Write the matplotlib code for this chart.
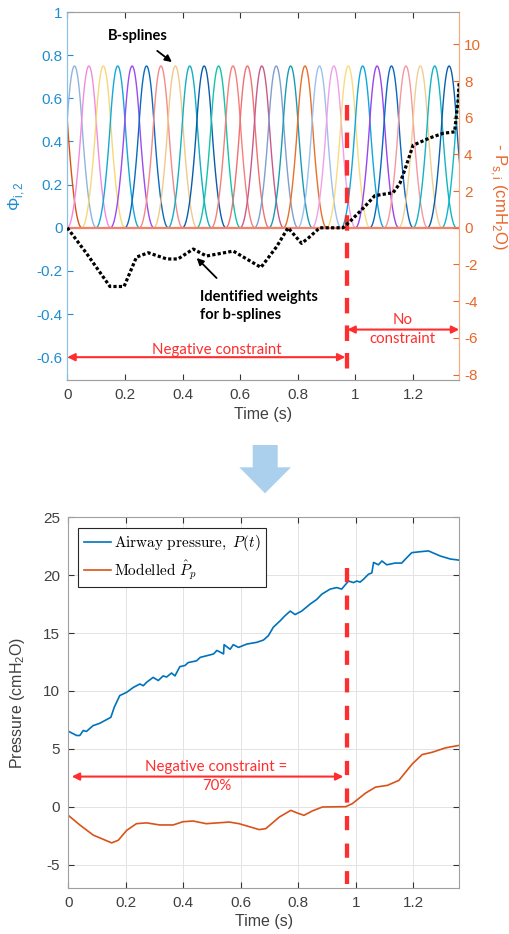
import numpy as np
import matplotlib
matplotlib.use("Agg")
import matplotlib.pyplot as plt
from matplotlib.patches import Polygon
from matplotlib.font_manager import FontProperties

plt.rcParams['font.family'] = ['Liberation Sans', 'DejaVu Sans']
plt.rcParams['axes.unicode_minus'] = False

# ================================
# Datos
# ================================

# B-splines cuadraticos (centros y paso de nudos)
knot_step = 0.05
spline_centres = [-0.025, 0.025, 0.075, 0.125, 0.175, 0.225, 0.275, 0.325, 0.375,
                  0.425, 0.475, 0.525, 0.575, 0.625, 0.675, 0.725, 0.775, 0.825,
                  0.875, 0.925, 0.975, 1.025, 1.075, 1.125, 1.175, 1.225, 1.275,
                  1.325, 1.375]
spline_colours = ['#D95319', '#8FB4E0', '#F08CE0', '#F8D77A', '#12A9D8', '#9B4BF0',
                  '#0A6BBE', '#F58A8A', '#F2C98A', '#12AFC0', '#0B5CAD', '#12C4A8',
                  '#F5807A', '#EE7272', '#C85A8A', '#7F9FD0', '#1A9BB5', '#E8702A',
                  '#9CC0EE', '#F0A0E8', '#F8DC80', '#10A8DA', '#9A45F0', '#0A68C0',
                  '#F598A0', '#F0CF94', '#12B4C0', '#0A60B0', '#12B8C8']

# pesos identificados (eje derecho, cmH2O)
w_time = [0, 0.067, 0.148, 0.197, 0.24, 0.281, 0.345, 0.384, 0.437, 0.483, 0.576,
          0.672, 0.726, 0.766, 0.813, 0.835, 0.876, 0.957, 0.98, 1.032, 1.067,
          1.113, 1.13, 1.154, 1.171, 1.2, 1.258, 1.304, 1.344, 1.356, 1.36]
weights = [0, -1.4, -3.2, -3.2, -1.6, -1.36, -1.7, -1.7, -1.16, -1.54, -1.27,
           -2.16, -1.04, 0, -0.85, -0.58, 0, 0, 0.33, 1.15, 1.75,
           1.87, 1.9, 2.42, 3.15, 4.5, 4.9, 5.15, 5.23, 6.96, 7.96]

# presion de via aerea P(t)
p_time = [0, 0.029, 0.04, 0.052, 0.063, 0.086, 0.109, 0.148, 0.160, 0.179, 0.203,
          0.226, 0.249, 0.261, 0.272, 0.295, 0.313, 0.330, 0.342, 0.359, 0.371,
          0.388, 0.406, 0.417, 0.446, 0.459, 0.505, 0.517, 0.540, 0.542, 0.563,
          0.574, 0.592, 0.621, 0.656, 0.679, 0.696, 0.713, 0.737, 0.754, 0.772,
          0.789, 0.812, 0.841, 0.864, 0.882, 0.911, 0.934, 0.951, 0.975, 0.992,
          1.004, 1.015, 1.027, 1.044, 1.056, 1.062, 1.079, 1.091, 1.108, 1.137,
          1.160, 1.177, 1.195, 1.224, 1.253, 1.294, 1.329, 1.36]
airway = [6.52, 6.15, 6.15, 6.58, 6.5, 7.0, 7.2, 7.72, 8.6, 9.6, 9.88,
          10.3, 10.6, 10.45, 10.74, 11.17, 10.9, 11.3, 11.2, 11.55, 11.3,
          12.1, 12.2, 12.45, 12.6, 12.9, 13.19, 13.5, 13.2, 14.0, 13.6,
          14.0, 13.76, 14.05, 14.2, 14.4, 14.77, 15.5, 16.06, 16.5, 16.9,
          16.6, 16.9, 17.5, 17.9, 18.36, 18.8, 18.93, 18.8, 19.5, 19.36,
          19.5, 19.4, 19.65, 20.08, 20.2, 21.1, 20.9, 21.23, 20.9, 21.05,
          21.05, 21.5, 21.95, 22.03, 22.1, 21.66, 21.4, 21.3]

# presion modelada
m_time = [0, 0.041, 0.087, 0.151, 0.174, 0.203, 0.237, 0.272, 0.318, 0.365, 0.399,
          0.434, 0.48, 0.56, 0.594, 0.664, 0.687, 0.734, 0.774, 0.797, 0.82, 0.849,
          0.884, 0.965, 0.988, 1.034, 1.069, 1.11, 1.15, 1.197, 1.231, 1.266, 1.312,
          1.356]
modelled = [-0.75, -1.6, -2.46, -3.13, -2.9, -2.05, -1.47, -1.4, -1.58, -1.58, -1.3,
            -1.24, -1.47, -1.33, -1.47, -1.98, -1.9, -0.9, -0.32, -0.55, -0.75, -0.37,
            -0.03, 0, 0.26, 1.17, 1.69, 1.84, 2.27, 3.7, 4.5, 4.7, 5.08,
            5.28]

t_switch = 0.969
x_ticks = [0, 0.2, 0.4, 0.6, 0.8, 1, 1.2]
x_labels = ["0", "0.2", "0.4", "0.6", "0.8", "1", "1.2"]
phi_ticks = [-0.6, -0.4, -0.2, 0, 0.2, 0.4, 0.6, 0.8, 1]
phi_labels = ["-0.6", "-0.4", "-0.2", "0", "0.2", "0.4", "0.6", "0.8", "1"]
ps_ticks = [-8, -6, -4, -2, 0, 2, 4, 6, 8, 10]
p_ticks = [-5, 0, 5, 10, 15, 20, 25]

BLUE = '#1F8DD0'
ORANGE = '#E8672A'
RED = '#FF2E2E'
GREY = '#404040'
TICK_FS = 11
LAB_FS = 11.5


def quad_bspline(t, c, h):
    u = np.abs((t - c) / h)
    return np.where(u <= 0.5, 0.75 - u ** 2, np.where(u <= 1.5, 0.5 * (1.5 - u) ** 2, 0.0))


fig = plt.figure(figsize=(5.09, 9.34), dpi=100)

# ================================
# 1. Grafico superior: B-splines
# ================================

ax1 = fig.add_axes([0.1322, 0.5931, 0.770, 0.394])
ax2 = ax1.twinx()

for c, col in zip(spline_centres, spline_colours):
    tt = np.linspace(c - 1.5 * knot_step, c + 1.5 * knot_step, 80)
    ax1.plot(tt, quad_bspline(tt, c, knot_step), color=col, lw=1.0, zorder=2)
ax1.axhline(0, color='#F2826C', lw=1.6, zorder=3)

ax2.plot(w_time, weights, color='black', lw=2.3, linestyle=(0, (1, 0.7)), zorder=4)

ax1.set_xlim(0, 1.36)
ax1.set_ylim(-0.706, 1)
ax2.set_ylim(-8.3, 11.76)

ax1.set_xticks(x_ticks)
ax1.set_xticklabels(x_labels)
ax1.set_yticks(phi_ticks)
ax1.set_yticklabels(phi_labels)
ax2.set_yticks(ps_ticks)

ax1.tick_params(axis='x', direction='in', top=True, labelsize=TICK_FS, labelcolor=GREY,
                color='#333333', length=4, pad=6)
ax1.tick_params(axis='y', direction='in', labelsize=TICK_FS, labelcolor=BLUE, color=BLUE, length=4)
ax2.tick_params(axis='y', direction='in', labelsize=TICK_FS, labelcolor=ORANGE, color=ORANGE, length=4)

for ax in (ax1, ax2):
    ax.spines['top'].set_color('#A0A0A0')
    ax.spines['bottom'].set_color('#A0A0A0')
    ax.spines['left'].set_color('#8CC2E8')
    ax.spines['right'].set_color('#F5AA88')

ax1.set_xlabel("Time (s)", fontsize=LAB_FS, color=GREY, labelpad=3)
ax1.set_ylabel(r"Φ$_{\mathregular{i,2}}$", fontsize=12, color=BLUE)
ax1.yaxis.set_label_coords(-0.102, 0.5)
ax2.set_ylabel(r"- P$_{\mathregular{s,i}}$ (cmH$_{\mathregular{2}}$O)", fontsize=12,
               color=ORANGE, rotation=270, va='center', ha='center')
ax2.yaxis.set_label_coords(1.10, 0.5)

# linea de cambio de restriccion
ax1.plot([t_switch, t_switch], [0.57, -0.683], color=RED, lw=3.1,
         linestyle=(0, (3.6, 2.8)), clip_on=False, zorder=5)

# flechas de restricciones
ax1.annotate("", xy=(0.0, -0.6), xytext=(0.965, -0.6),
             arrowprops=dict(arrowstyle='<|-|>', color=RED, lw=1.5, mutation_scale=11,
                             shrinkA=0, shrinkB=0), zorder=6)
ax1.text(0.519, -0.568, "Negative constraint", color=RED, fontsize=10.8,
         family=['Lato', 'DejaVu Sans'], ha='center', va='center')
ax1.annotate("", xy=(0.972, -0.472), xytext=(1.36, -0.472),
             arrowprops=dict(arrowstyle='<|-|>', color=RED, lw=1.5, mutation_scale=11,
                             shrinkA=0, shrinkB=0), zorder=6, annotation_clip=False)
ax1.text(1.164, -0.472, "No\nconstraint", color=RED, fontsize=10.8,
         family=['Lato', 'DejaVu Sans'], ha='center', va='center', linespacing=1.45)

# anotaciones en negro
ax1.annotate("B-splines", xy=(0.363, 0.768), xytext=(0.245, 0.889),
             fontsize=10.5, fontweight='bold', family=['Lato', 'DejaVu Sans'],
             ha='center', va='center',
             arrowprops=dict(arrowstyle='-|>', color='black', lw=1.3, mutation_scale=10,
                             shrinkA=6, shrinkB=0))
ax1.annotate("", xy=(0.449, -0.140), xytext=(0.518, -0.233),
             arrowprops=dict(arrowstyle='-|>', color='black', lw=1.3, mutation_scale=10,
                             shrinkA=0, shrinkB=0))
ax1.text(0.46, -0.363, "Identified weights\nfor b-splines", fontsize=10.5,
         fontweight='bold', family=['Lato', 'DejaVu Sans'], ha='left', va='center',
         linespacing=1.35)

# ================================
# 2. Flecha azul
# ================================

arrow_px = [(252.7, 445), (277.7, 445), (277.7, 467.3), (291, 467.3), (265, 493.3),
            (239.3, 467.3), (252.7, 467.3)]
arrow_fig = [(x / 509, 1 - y / 934) for x, y in arrow_px]
fig.patches.append(Polygon(arrow_fig, closed=True, transform=fig.transFigure,
                           facecolor='#AAD0EE', edgecolor='none'))

# ================================
# 3. Grafico inferior: presiones
# ================================

ax3 = fig.add_axes([0.1342, 0.0496, 0.768, 0.3965])
ax3.plot(p_time, airway, color='#0072BD', lw=1.2, label=r"$\mathrm{Airway\ pressure,}\ P(t)$")
ax3.plot(m_time, modelled, color='#D95319', lw=1.2, label=r"$\mathrm{Modelled}\ \hat{P}_p$")

ax3.plot([t_switch, t_switch], [20.6, -6.7], color=RED, lw=3.1,
         linestyle=(0, (3.3, 3.1)), zorder=5)
ax3.annotate("", xy=(0.012, 2.6), xytext=(0.957, 2.6),
             arrowprops=dict(arrowstyle='<|-|>', color=RED, lw=1.5, mutation_scale=11,
                             shrinkA=0, shrinkB=0), zorder=6)
ax3.text(0.516, 2.57, "Negative constraint =\n70%", color=RED, fontsize=10.8,
         family=['Lato', 'DejaVu Sans'], ha='center', va='center', linespacing=1.45)

ax3.set_xlim(0, 1.36)
ax3.set_ylim(-7, 25)
ax3.set_xticks(x_ticks)
ax3.set_xticklabels(x_labels)
ax3.set_yticks(p_ticks)
ax3.grid(True, color='#E3E3E3', lw=0.7)
ax3.set_axisbelow(True)
ax3.tick_params(direction='in', top=True, right=True, labelsize=TICK_FS, labelcolor=GREY,
                color='#333333', length=4, pad=6)
for s in ax3.spines.values():
    s.set_color('#A0A0A0')
ax3.set_xlabel("Time (s)", fontsize=LAB_FS, color=GREY, labelpad=3)
ax3.set_ylabel(r"Pressure (cmH$_{\mathregular{2}}$O)", fontsize=LAB_FS, color=GREY)
ax3.yaxis.set_label_coords(-0.106, 0.5)

leg_font = FontProperties(size=11, math_fontfamily='cm')
leg = ax3.legend(loc='upper left', bbox_to_anchor=(0.0256, 0.971), borderaxespad=0,
                 prop=leg_font, fancybox=False, framealpha=1, edgecolor='#262626',
                 handlelength=1.8, handletextpad=0.2, borderpad=0.35, labelspacing=0.3)
leg.get_frame().set_linewidth(0.8)

fig.savefig("out.png", dpi=100)
